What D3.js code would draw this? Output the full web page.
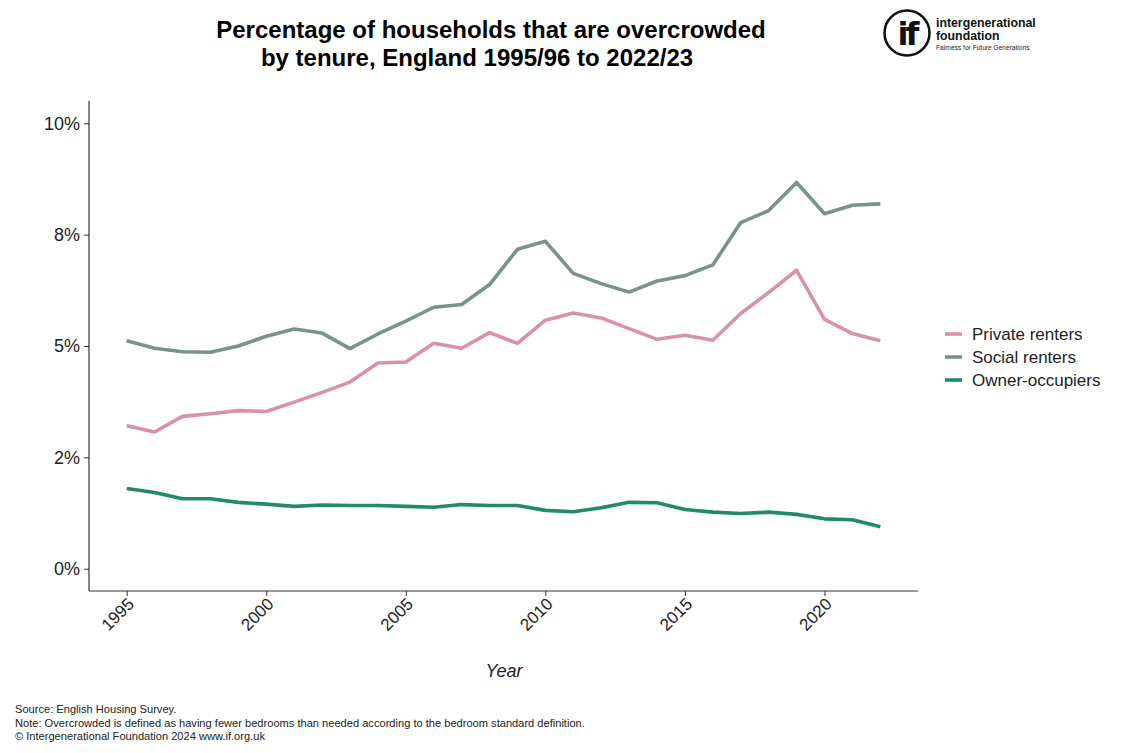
<!DOCTYPE html>
<html>
<head>
<meta charset="utf-8">
<script src="https://cdn.jsdelivr.net/npm/d3@7/dist/d3.min.js"></script>
<style>
  html, body { margin: 0; padding: 0; background: #fff; }
  svg { display: block; font-family: "Liberation Sans", Arial, sans-serif; }
</style>
</head>
<body>
<svg id="chart" width="1138" height="753"></svg>
<script>
// Survey years (start year of each 19xx/yy survey period)
const years = d3.range(1995, 2023);

// Share of households overcrowded, % by tenure
const privateRenters = [3.21, 3.07, 3.42, 3.48, 3.55, 3.53, 3.74, 3.96, 4.19, 4.62,
  4.64, 5.06, 4.95, 5.30, 5.06, 5.58, 5.74, 5.63, 5.39, 5.15,
  5.24, 5.13, 5.73, 6.20, 6.70, 5.60, 5.28, 5.12];
const socialRenters = [5.12, 4.95, 4.87, 4.86, 5.00, 5.22, 5.38, 5.29, 4.94, 5.27,
  5.56, 5.87, 5.93, 6.38, 7.17, 7.35, 6.63, 6.40, 6.21, 6.46,
  6.58, 6.82, 7.77, 8.04, 8.67, 7.97, 8.16, 8.19];
const ownerOccupiers = [1.80, 1.71, 1.57, 1.57, 1.49, 1.45, 1.40, 1.43, 1.42, 1.42,
  1.40, 1.38, 1.44, 1.42, 1.42, 1.31, 1.28, 1.37, 1.49, 1.48,
  1.33, 1.27, 1.24, 1.27, 1.22, 1.12, 1.10, 0.94];

const seriesNames = ["Private renters", "Social renters", "Owner-occupiers"];
const seriesColors = ["#d990ad", "#7b918b", "#1f8b6c"];

const yTicks = [0, 2.5, 5, 7.5, 10];
const yTickLabels = ["0%", "2%", "5%", "8%", "10%"];
const xTicks = [1995, 2000, 2005, 2010, 2015, 2020];

const series = [privateRenters, socialRenters, ownerOccupiers].map((vals, i) => ({
  name: seriesNames[i],
  color: seriesColors[i],
  values: years.map((y, j) => ({ year: y, value: vals[j] }))
}));

const svg = d3.select("#chart");

const panel = { left: 89, right: 918, top: 101, bottom: 591 };

const x = d3.scaleLinear().domain([1993.65, 2023.35]).range([panel.left, panel.right]);
const y = d3.scaleLinear().domain([-0.5, 10.5]).range([panel.bottom, panel.top]);

// Title
const title = svg.append("g").attr("font-weight", "bold").attr("font-size", 24).attr("fill", "#000");
title.append("text").attr("x", 491).attr("y", 38).attr("text-anchor", "middle")
  .text("Percentage of households that are overcrowded");
title.append("text").attr("x", 477).attr("y", 66).attr("text-anchor", "middle")
  .text("by tenure, England 1995/96 to 2022/23");

// Logo
const logo = svg.append("g");
logo.append("circle").attr("cx", 907).attr("cy", 33).attr("r", 22.5)
  .attr("fill", "none").attr("stroke", "#111").attr("stroke-width", 2.6);
logo.append("text").attr("x", 907).attr("y", 45).attr("text-anchor", "middle")
  .attr("font-family", "'DejaVu Sans', sans-serif").attr("font-weight", "bold")
  .attr("font-size", 32).attr("letter-spacing", -3).attr("fill", "#111").text("if");
logo.append("text").attr("x", 936).attr("y", 27).attr("font-size", 12.3).attr("font-weight", "bold")
  .attr("fill", "#111").text("intergenerational");
logo.append("text").attr("x", 936).attr("y", 40).attr("font-size", 12.3).attr("font-weight", "bold")
  .attr("fill", "#111").text("foundation");
logo.append("text").attr("x", 936).attr("y", 50).attr("font-size", 6.6)
  .attr("fill", "#222").text("Fairness for Future Generations");

// Axes
const axisColor = "#333";
const yAxis = svg.append("g").attr("transform", `translate(${panel.left},0)`)
  .call(d3.axisLeft(y).tickValues(yTicks).tickFormat((d, i) => yTickLabels[i]).tickSize(5).tickPadding(4));
yAxis.select(".domain").attr("d", `M0,${panel.top}V${panel.bottom}`).attr("stroke", axisColor).attr("stroke-width", 1.2);
yAxis.selectAll(".tick line").attr("stroke", axisColor);
yAxis.selectAll(".tick text").attr("font-size", 18).attr("fill", "#222")
  .attr("font-family", "'Liberation Sans', Arial, sans-serif");

const xAxis = svg.append("g").attr("transform", `translate(0,${panel.bottom})`)
  .call(d3.axisBottom(x).tickValues(xTicks).tickFormat(d3.format("d")).tickSize(5));
xAxis.select(".domain").attr("d", `M${panel.left},0H${panel.right}`).attr("stroke", axisColor).attr("stroke-width", 1.2);
xAxis.selectAll(".tick line").attr("stroke", axisColor);
xAxis.selectAll(".tick text")
  .attr("font-size", 17).attr("fill", "#222")
  .attr("font-family", "'Liberation Sans', Arial, sans-serif")
  .attr("text-anchor", "end")
  .attr("dy", null).attr("y", 0)
  .attr("transform", "translate(8,14) rotate(-45)");

// Axis title
svg.append("text").attr("x", 504).attr("y", 677).attr("text-anchor", "middle")
  .attr("font-size", 18).attr("font-style", "italic").attr("fill", "#222").text("Year");

// Lines
const line = d3.line().x(d => x(d.year)).y(d => y(d.value));
svg.append("g").selectAll("path").data(series).join("path")
  .attr("d", d => line(d.values))
  .attr("fill", "none")
  .attr("stroke", d => d.color)
  .attr("stroke-width", 3.6)
  .attr("stroke-linejoin", "round")
  .attr("stroke-linecap", "butt");

// Legend
const legend = svg.append("g").attr("transform", "translate(945,334)");
const items = legend.selectAll("g").data(series).join("g")
  .attr("transform", (d, i) => `translate(0,${i * 23})`);
items.append("line").attr("x1", 0).attr("x2", 17).attr("y1", 0).attr("y2", 0)
  .attr("stroke", d => d.color).attr("stroke-width", 3.6);
items.append("text").attr("x", 27).attr("y", 6).attr("font-size", 17).attr("fill", "#222")
  .text(d => d.name);

// Footnotes
const notes = [
  "Source: English Housing Survey.",
  "Note: Overcrowded is defined as having fewer bedrooms than needed according to the bedroom standard definition.",
  "\u00A9 Intergenerational Foundation 2024 www.if.org.uk"
];
svg.append("g").selectAll("text").data(notes).join("text")
  .attr("x", 15).attr("y", (d, i) => 713 + i * 13.5)
  .attr("font-size", 11.1).attr("fill", "#222").text(d => d);
</script>
</body>
</html>
